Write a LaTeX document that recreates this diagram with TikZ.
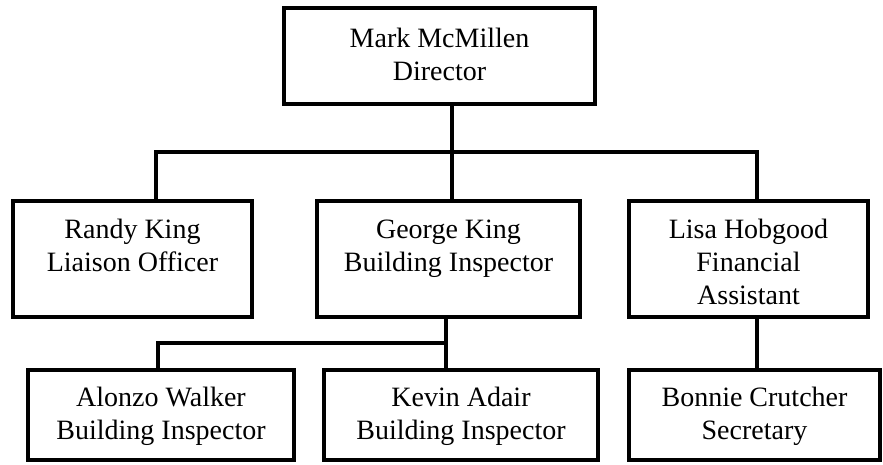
\documentclass[tikz,border=0pt]{standalone}
\usepackage{fontspec}
\setmainfont{Liberation Serif}
\begin{document}
\begin{tikzpicture}[x=1pt,y=-1pt,
  box/.style={draw=black, line width=4pt, rectangle, inner sep=0pt},
  lbl/.style={anchor=north, align=center, inner sep=0pt, font=\fontsize{28}{33}\selectfont},
  link/.style={draw=black, line width=4pt}]
\useasboundingbox (0,0) rectangle (883,465);
% boxes
\node[box, minimum width=311pt, minimum height=96pt] (dir) at (439.5,56) {};
\node[box, minimum width=239pt, minimum height=116pt] (randy) at (132.5,259) {};
\node[box, minimum width=263pt, minimum height=116pt] (george) at (448.5,259) {};
\node[box, minimum width=239pt, minimum height=116pt] (lisa) at (748.5,259) {};
\node[box, minimum width=266pt, minimum height=90pt] (alonzo) at (161,415) {};
\node[box, minimum width=274pt, minimum height=90pt] (kevin) at (461,415) {};
\node[box, minimum width=251pt, minimum height=90pt] (bonnie) at (754.5,415) {};
% labels
\node[lbl] (dirt) at ([yshift=-18.5pt]dir.north) {\strut Mark McMillen\\Director};
\node[lbl] (randyt) at ([yshift=-16.5pt]randy.north) {\strut Randy King\\Liaison Officer};
\node[lbl] (georget) at ([yshift=-16.5pt]george.north) {\strut George King\\Building Inspector};
\node[lbl] (lisat) at ([yshift=-16.5pt]lisa.north) {\strut Lisa Hobgood\\Financial\\Assistant};
\node[lbl] (alonzot) at ([yshift=-15pt]alonzo.north) {\strut Alonzo Walker\\Building Inspector};
\node[lbl] (kevint) at ([yshift=-15pt]kevin.north) {\strut Kevin Adair\\Building Inspector};
\node[lbl] (bonniet) at ([yshift=-15pt]bonnie.north) {\strut Bonnie Crutcher\\Secretary};
% junctions
\coordinate (jl) at (156,152);
\coordinate (jm) at (452,152);
\coordinate (jr) at (757,152);
\coordinate (kl) at (158,343);
\coordinate (km) at (446,343);
% connectors
\draw[link] (dir.south -| jm) -- (george.north -| jm);
\draw[link] (jl |- randy.north) -- (jl) -- (jr) -- (jr |- lisa.north);
\draw[link] (george.south -| km) -- (kevin.north -| km);
\draw[link] (kl |- alonzo.north) -- (kl) -- (km);
\draw[link] (lisa.south -| jr) -- (bonnie.north -| jr);
\end{tikzpicture}
\end{document}
